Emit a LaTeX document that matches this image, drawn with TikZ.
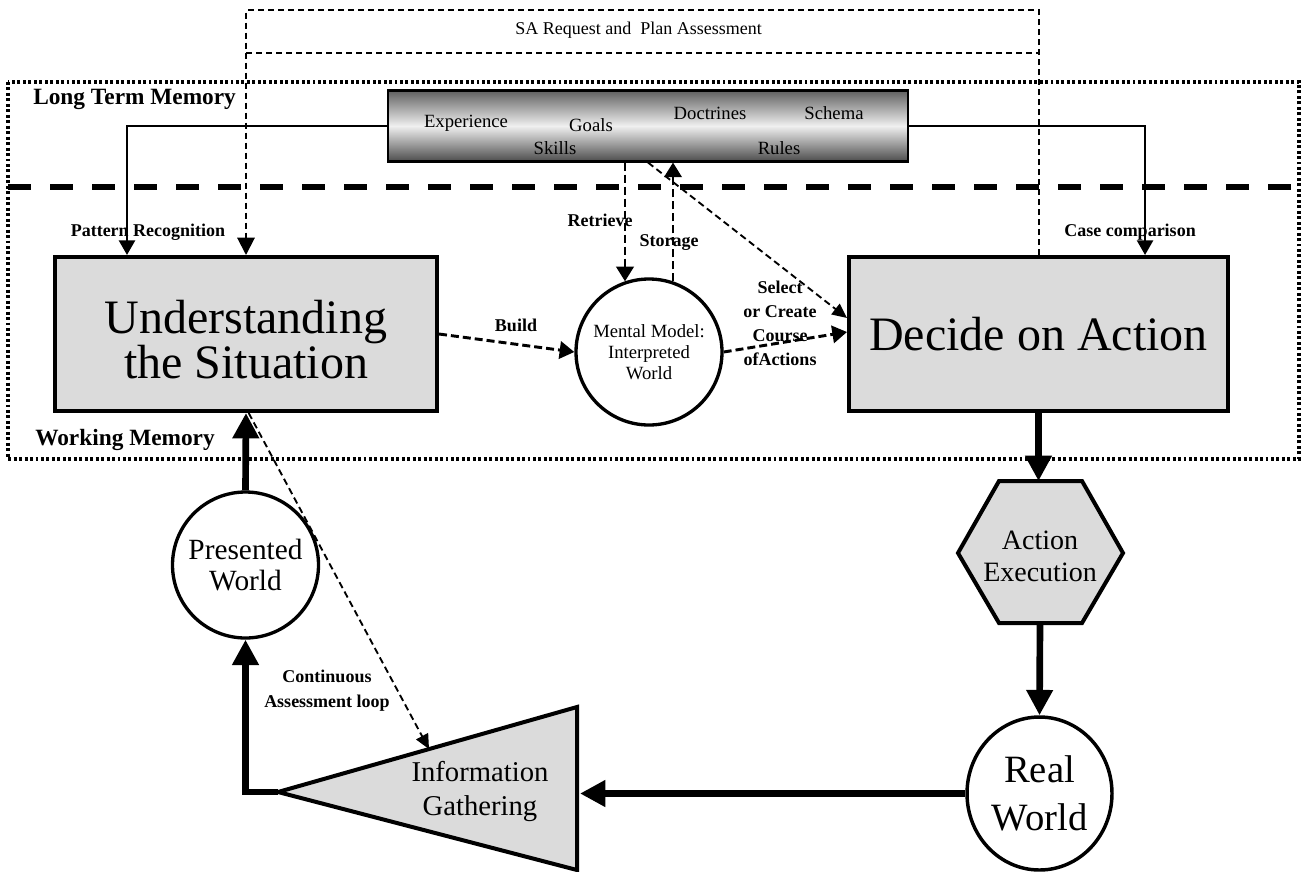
\documentclass[tikz,border=0pt]{standalone}
\usepackage{fontspec}
\setmainfont{Liberation Serif}
\usetikzlibrary{arrows.meta,calc,shapes.geometric}
\begin{document}
\begin{tikzpicture}[x=0.75pt,y=-0.75pt,
  gbox/.style={draw,line width=3pt,fill=black!14,minimum width=286.5pt,minimum height=115.5pt,inner sep=0pt,align=center,font=\fontsize{36}{34}\selectfont},
  bigtxt/.style={inner sep=0pt,align=center,font=\fontsize{36}{34}\selectfont},
  circ/.style={circle,draw,line width=2.5pt,fill=white,inner sep=0pt,align=center},
  ltmtxt/.style={inner sep=0pt,font=\fontsize{14}{16}\selectfont},
  lbl/.style={inner sep=0pt,font=\fontsize{13.5}{15}\selectfont\bfseries},
  ttl/.style={inner sep=0pt,font=\fontsize{17.5}{19}\selectfont\bfseries},
  tarrow/.style={line width=5pt,line join=miter,-{Triangle[length=19pt,width=19pt]}},
  sarrow/.style={line width=1.9pt,-{Triangle[length=11pt,width=12pt]}},
  sadash/.style={line width=1.5pt,dash pattern=on 4.5pt off 3pt},
  darrow/.style={line width=2.2pt,dash pattern=on 6pt off 3pt,-{Triangle[length=11pt,width=13pt]}},
  thinarrow/.style={line width=1.4pt,dash pattern=on 5pt off 3pt,-{Triangle[length=11pt,width=10pt]}}
]
\fill[white] (0,0) rectangle (1302,871);
\useasboundingbox (0,0) rectangle (1302,871);

% memory regions
\draw[line width=2.5pt,dash pattern=on 2.2pt off 1.9pt] (8,82) rectangle (1299,459);
\draw[line width=4pt,dash pattern=on 17.5pt off 14pt] (8,187) -- (1299,187);

% main nodes
\node[gbox] (us) at (246,334) {};
\node[bigtxt] (us-t) at ([yshift=-4pt]us.center) {Understanding\\the Situation};
\node[gbox,minimum width=284.25pt] (da) at (1038.5,334) {Decide on Action};
\node[circ,minimum size=109.5pt,font=\fontsize{14}{16}\selectfont] (mm) at (649,352) {Mental Model:\\Interpreted\\World};
\node[circ,minimum size=109.5pt,font=\fontsize{22}{23}\selectfont] (pw) at (245.5,565) {Presented\\World};
\node[ellipse,draw,line width=2.6pt,fill=white,inner sep=0pt,align=center,minimum width=108.75pt,minimum height=114.75pt,font=\fontsize{29}{36}\selectfont] (rw) at (1039.5,793.5) {Real\\World};

% hexagon
\coordinate (h1) at (999,481);
\coordinate (h2) at (1082,481);
\coordinate (h3) at (1123,553);
\coordinate (h4) at (1082,623);
\coordinate (h5) at (999,623);
\coordinate (h6) at (958,553);
\draw[line width=3pt,fill=black!14,line join=miter] (h1)--(h2)--(h3)--(h4)--(h5)--(h6)--cycle;
\node[inner sep=0pt,align=center,font=\fontsize{21}{24}\selectfont] (ae) at (1040,556) {Action\\Execution};
\coordinate (aetop) at (1040,481);
\coordinate (aebot) at (1040,623);

% triangle
\coordinate (t1) at (278,792);
\coordinate (t2) at (577,707);
\coordinate (t3) at (577,870);
\draw[line width=3pt,fill=black!14,line join=miter] (t1)--(t2)--(t3)--cycle;
\node[inner sep=0pt,align=center,font=\fontsize{21.5}{25.5}\selectfont] (ig) at (480,791) {Information\\Gathering};
\coordinate (igin) at (580,790);
\coordinate (igtop) at ($(t1)!0.505!(t2)$);

% long term memory box
\node[draw,line width=1.8pt,minimum width=390pt,minimum height=53pt,top color=black!62,bottom color=black!70,middle color=black!6] (ltm) at (648,126) {};
\node[ltmtxt] (t-exp) at (466,123) {Experience};
\node[ltmtxt] (t-goa) at (591,125) {Goals};
\node[ltmtxt] (t-doc) at (710,113) {Doctrines};
\node[ltmtxt] (t-sch) at (834,113) {Schema};
\node[ltmtxt] (t-ski) at (555,148) {Skills};
\node[ltmtxt] (t-rul) at (779,148) {Rules};

% SA request loop
\coordinate (satop) at (640,10);
\coordinate (samid) at (640,53);
\draw[sadash,-{Triangle[length=13pt,width=13pt]}] (da.north) -- (da.north |- satop) -- (us.north |- satop) -- (us.north);
\draw[sadash] (us.north |- samid) -- (da.north |- samid);
\node[inner sep=0pt,font=\fontsize{13.5}{15}\selectfont] (l-sa) at (638.5,30) {SA Request and\ \ Plan Assessment};

% connectors
\draw[sarrow] (ltm.west) -| ([xshift=-89.25pt]us.north);
\draw[sarrow] (ltm.east) -| ([xshift=79.9pt]da.north);
\draw[darrow] ([xshift=-17.25pt]ltm.south) -- ([xshift=-17.25pt,yshift=-3pt]ltm.south |- mm.north);
\draw[darrow] ([xshift=18pt,yshift=-3pt]mm.north) -- ([xshift=18pt]mm.north |- ltm.south);
\draw[darrow] (us.east) -- (mm.west);
\coordinate (dainA) at ([yshift=12pt]da.west);
\coordinate (dainB) at ([yshift=1.5pt]da.west);
\draw[darrow] (mm.east) -- (dainB);
\draw[thinarrow] (ltm.south) -- (dainA);
\draw[thinarrow] ([xshift=2pt]us.south) -- (igtop);

\draw[tarrow] (da.south) -- (da.south |- aetop);
\draw[tarrow] (aebot) -- (rw.north);
\draw[tarrow] (rw.west) -- (rw.west -| igin);
\draw[tarrow] (t1) -| (pw.south);
\draw[tarrow] (pw.north) -- (us.south);

% labels
\node[lbl] (l-pr) at (148,232) {Pattern Recognition};
\node[lbl] (l-cc) at (1130,232) {Case comparison};
\node[lbl] (l-ret) at (600,220) {Retrieve};
\node[lbl] (l-sto) at (669,243) {Storage};
\node[lbl] (l-bld) at (516,325) {Build};
\node[lbl,align=center,font=\fontsize{13.5}{18}\selectfont\bfseries] (l-sel) at (780,323) {Select\\or Create\\Course\\ofActions};
\node[lbl,align=center,font=\fontsize{13.5}{18.75}\selectfont\bfseries] (l-cal) at (327,691) {Continuous\\Assessment loop};
\node[ttl,anchor=west] (l-ltm) at (33,99) {Long Term Memory};
\node[ttl,anchor=west] (l-wm) at (35,440) {Working Memory};
\end{tikzpicture}
\end{document}
